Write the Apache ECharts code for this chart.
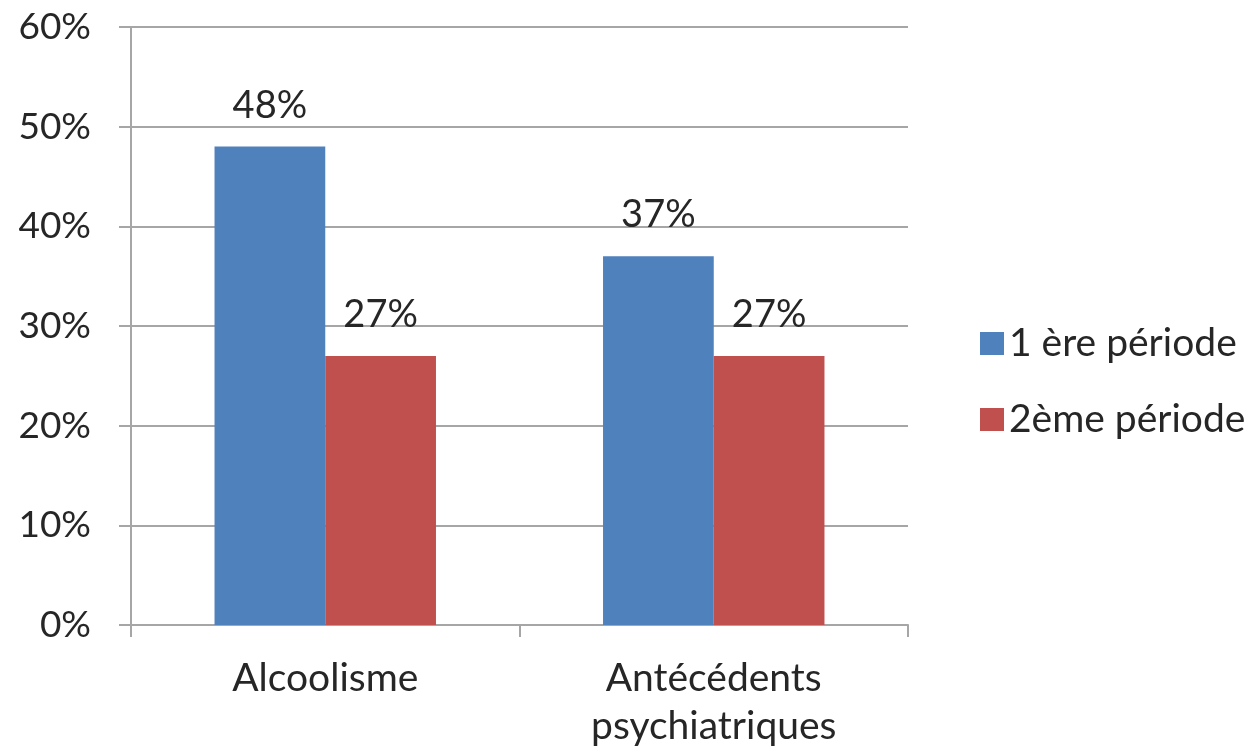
<!DOCTYPE html>
<html>
<head>
<meta charset="utf-8">
<script src="https://cdn.jsdelivr.net/npm/echarts@6/dist/echarts.min.js"></script>
<style>
  html, body { margin: 0; padding: 0; background: #fff; }
  #chart { width: 1254px; height: 752px; }
</style>
</head>
<body>
<div id="chart"></div>
<script>
// Categories and values (percent) for the two periods
const categories = ['Alcoolisme', 'Antécédents\npsychiatriques'];
const seriesNames = ['1 ère période', '2ème période'];
const periode1 = [48, 37];
const periode2 = [27, 27];
const colors = ['#4f81bd', '#c0504d'];

const FONT = 'Lato, "Open Sans", sans-serif';
const TEXT = '#262626';
const LINE = '#a6a6a6';

const chart = echarts.init(document.getElementById('chart'), null, { renderer: 'canvas' });

const labelStyle = {
  show: true,
  position: 'top',
  distance: 22,
  formatter: p => p.value + '%',
  fontFamily: FONT,
  fontSize: 38,
  color: TEXT
};

chart.setOption({
  animation: false,
  backgroundColor: '#fff',
  grid: { left: 131, right: 346, top: 27, bottom: 127, containLabel: false },
  legend: {
    orient: 'vertical',
    left: 975,
    top: 319,
    itemWidth: 24,
    itemHeight: 23,
    itemGap: 37,
    icon: 'rect',
    textStyle: { fontFamily: FONT, fontSize: 39, color: TEXT },
    data: seriesNames
  },
  xAxis: {
    type: 'category',
    data: categories,
    axisLine: { show: true, lineStyle: { color: LINE, width: 2 } },
    axisTick: { show: true, length: 12, alignWithLabel: false, lineStyle: { color: LINE, width: 2 } },
    axisLabel: {
      fontFamily: FONT,
      fontSize: 39,
      color: TEXT,
      margin: 29,
      lineHeight: 48
    }
  },
  yAxis: {
    type: 'value',
    min: 0,
    max: 60,
    interval: 10,
    axisLine: { show: true, lineStyle: { color: LINE, width: 2 } },
    axisTick: { show: true, length: 12, lineStyle: { color: LINE, width: 2 } },
    splitLine: { show: true, lineStyle: { color: LINE, width: 2 } },
    axisLabel: {
      formatter: '{value}%',
      fontFamily: FONT,
      fontSize: 37,
      color: TEXT,
      margin: 40
    }
  },
  series: [
    {
      name: seriesNames[0],
      type: 'bar',
      data: periode1,
      itemStyle: { color: colors[0] },
      barGap: '0%',
      barCategoryGap: '43%',
      label: labelStyle
    },
    {
      name: seriesNames[1],
      type: 'bar',
      data: periode2,
      itemStyle: { color: colors[1] },
      barGap: '0%',
      barCategoryGap: '43%',
      label: labelStyle
    }
  ]
});
</script>
</body>
</html>
